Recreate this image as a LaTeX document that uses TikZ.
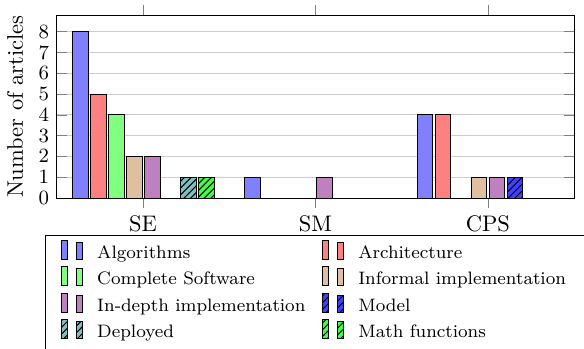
\documentclass[tikz,border=0pt]{standalone}
\usepackage{pgfplots}
\pgfplotsset{compat=1.18}
\usetikzlibrary{patterns}
\definecolor{algcol}{RGB}{128,128,255}
\definecolor{archcol}{RGB}{255,128,128}
\definecolor{softcol}{RGB}{128,255,128}
\definecolor{informalcol}{RGB}{223,191,159}
\definecolor{depthcol}{RGB}{191,128,191}
\definecolor{modelcol}{RGB}{64,64,255}
\definecolor{deploycol}{RGB}{128,191,191}
\definecolor{mathcol}{RGB}{64,255,64}
\tikzset{
    plainbar/.style={draw=black, fill=#1},
    hatchbar/.style={draw=black, fill=#1, postaction={pattern=north east lines, pattern color=black}},
}

\begin{document}
\begin{tikzpicture}

% Visible page (the legend runs past its right and bottom edges)
\useasboundingbox (-25.3pt,-66.8pt) rectangle (234.2pt,88pt);

\begin{axis}[
    scale only axis,
    width=229.8pt, height=81.3pt,
    ybar=1pt, bar width=7pt,
    symbolic x coords={SE,SM,CPS},
    xtick=data,
    enlarge x limits=0.25,
    ymin=0, ymax=8.8,
    ytick={0,...,8},
    ymajorgrids,
    grid style={gray!40},
    xtick align=outside,
    major tick length=4.5pt,
    tick style={gray},
    yticklabel style={font=\small},
    ylabel={Number of articles},
    legend columns=2,
    legend cell align=left,
    legend image code/.code={
        \draw[#1] (0pt,-0.25em) rectangle (3pt,0.6em);
        \draw[#1] (6.7pt,-0.25em) rectangle (9.7pt,0.5em);
    },
    legend style={at={(0.5,-0.2)}, anchor=north, font=\footnotesize, draw=black,
        inner xsep=6.5pt,
        /tikz/every odd column/.append style={column sep=4.2pt},
        /tikz/column 2/.append style={column sep=5.2pt}},
]

% Article counts per category
\addplot[plainbar=algcol] coordinates {(SE,8) (SM,1) (CPS,4)};
\addplot[plainbar=archcol] coordinates {(SE,5) (SM,0) (CPS,4)};
\addplot[plainbar=softcol] coordinates {(SE,4) (SM,0) (CPS,0)};
\addplot[plainbar=informalcol] coordinates {(SE,2) (SM,0) (CPS,1)};
\addplot[plainbar=depthcol] coordinates {(SE,2) (SM,1) (CPS,1)};
\addplot[hatchbar=modelcol] coordinates {(SE,0) (SM,0) (CPS,1)};
\addplot[hatchbar=deploycol] coordinates {(SE,1) (SM,0) (CPS,0)};
\addplot[hatchbar=mathcol] coordinates {(SE,1) (SM,0) (CPS,0)};

\legend{Algorithms, Architecture, Complete Software, Informal implementation,
    In-depth implementation, Model, Deployed, Math functions}

\end{axis}
\end{tikzpicture}
\end{document}
